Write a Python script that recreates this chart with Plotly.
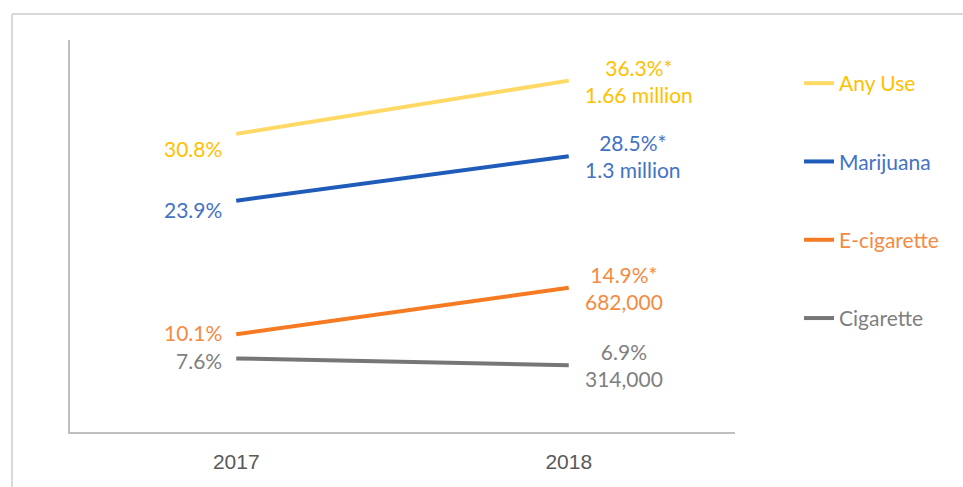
import plotly.graph_objects as go

years = ["2017", "2018"]
series = ["Any Use", "Marijuana", "E-cigarette", "Cigarette"]
values = {
    "Any Use": [30.8, 36.3],
    "Marijuana": [23.9, 28.5],
    "E-cigarette": [10.1, 14.9],
    "Cigarette": [7.6, 6.9],
}
labels_2017 = {
    "Any Use": "30.8%",
    "Marijuana": "23.9%",
    "E-cigarette": "10.1%",
    "Cigarette": "7.6%",
}
labels_2018 = {
    "Any Use": "36.3%*<br>1.66 million",
    "Marijuana": "28.5%*<br>1.3 million",
    "E-cigarette": "14.9%*<br>682,000",
    "Cigarette": "6.9%<br>314,000",
}

line_colors = {
    "Any Use": "#FFD966",
    "Marijuana": "#1F5CBA",
    "E-cigarette": "#F57A21",
    "Cigarette": "#767676",
}
text_colors = {
    "Any Use": "#FFC000",
    "Marijuana": "#4472C4",
    "E-cigarette": "#F58A42",
    "Cigarette": "#7F7F7F",
}
yshift_2017 = {"Any Use": -15, "Marijuana": -9, "E-cigarette": 2, "Cigarette": -2}

FONT = "Lato, 'Open Sans', sans-serif"

fig = go.Figure()
for s in series:
    fig.add_trace(go.Scatter(
        x=years, y=values[s], mode="lines",
        line=dict(color=line_colors[s], width=4),
        name=f'<span style="color:{text_colors[s]}">{s}</span>',
        legendgroup=s, hoverinfo="skip",
    ))
    # category index positions on the category axis
    fig.add_annotation(x=years.index(years[0]), y=values[s][0], xref="x", yref="y",
                       text=labels_2017[s], showarrow=False, xanchor="right",
                       xshift=-12, yshift=yshift_2017[s],
                       font=dict(family=FONT, size=21, color=text_colors[s]))
    fig.add_annotation(x=years.index(years[1]), y=values[s][1], xref="x", yref="y",
                       text=labels_2018[s], showarrow=False, xanchor="left",
                       align="center", xshift=14, yshift=0,
                       font=dict(family=FONT, size=21, color=text_colors[s]))

# outer light border (image frame)
L, R, T, B = 70, 228, 40, 55
pw, ph = 963 - L - R, 487 - T - B
def px(xp): return (xp - L) / pw
def py(yp): return (487 - B - yp) / ph
fig.add_shape(type="line", xref="paper", yref="paper",
              x0=px(12), x1=px(970), y0=py(14), y1=py(14),
              line=dict(color="#D9D9D9", width=2))
fig.add_shape(type="line", xref="paper", yref="paper",
              x0=px(12), x1=px(12), y0=py(14), y1=py(495),
              line=dict(color="#D9D9D9", width=2))

fig.update_layout(
    width=963, height=487,
    margin=dict(l=L, r=R, t=T, b=B),
    paper_bgcolor="white", plot_bgcolor="white",
    showlegend=True,
    legend=dict(x=px(799), y=py(63), xanchor="left", yanchor="top",
                font=dict(family=FONT, size=21), tracegroupgap=48,
                bgcolor="rgba(0,0,0,0)", borderwidth=0),
    xaxis=dict(type="category", range=[-0.5, 1.5], showgrid=False,
               showline=True, linecolor="#BFBFBF", linewidth=2,
               ticks="", zeroline=False,
               tickfont=dict(family="'Liberation Sans Narrow', 'Arial Narrow', sans-serif",
                             size=21, color="#595959"),
               ticklabelstandoff=10),
    yaxis=dict(range=[0, 40.5], showgrid=False, showline=True,
               linecolor="#BFBFBF", linewidth=2, showticklabels=False,
               ticks="", zeroline=False),
)

fig.write_html("out.html")
